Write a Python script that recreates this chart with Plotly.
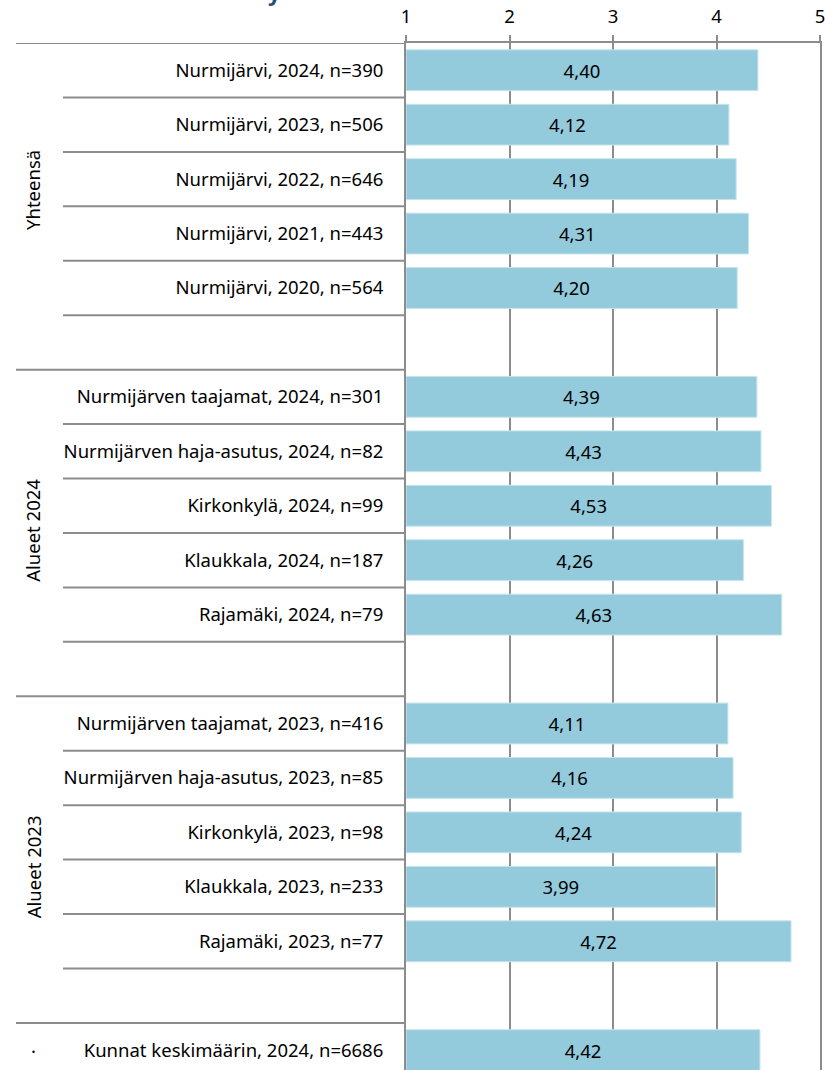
import plotly.graph_objects as go

# ---- data ----
row_labels = [
    "Nurmijärvi, 2024, n=390",
    "Nurmijärvi, 2023, n=506",
    "Nurmijärvi, 2022, n=646",
    "Nurmijärvi, 2021, n=443",
    "Nurmijärvi, 2020, n=564",
    "",
    "Nurmijärven taajamat, 2024, n=301",
    "Nurmijärven haja-asutus, 2024, n=82",
    "Kirkonkylä, 2024, n=99",
    "Klaukkala, 2024, n=187",
    "Rajamäki, 2024, n=79",
    "",
    "Nurmijärven taajamat, 2023, n=416",
    "Nurmijärven haja-asutus, 2023, n=85",
    "Kirkonkylä, 2023, n=98",
    "Klaukkala, 2023, n=233",
    "Rajamäki, 2023, n=77",
    "",
    "Kunnat keskimäärin, 2024, n=6686",
]
values = [4.40, 4.12, 4.19, 4.31, 4.20, None,
          4.39, 4.43, 4.53, 4.26, 4.63, None,
          4.11, 4.16, 4.24, 3.99, 4.72, None,
          4.42]
group_names = ["Yhteensä", "Alueet 2024", "Alueet 2023", "·"]
group_label_rows = [2.2, 8.46, 14.64, 18.0]
group_start_rows = [0, 6, 12, 18]
x_ticks = [1, 2, 3, 4, 5]
axis_min = 1

# ---- style ----
FONT = "Noto Sans"
FS = 18.5
GRID = "#8c8c8c"
BAR = "#93cbdc"
W, H = 825, 1070
ML, MR, MT, MB = 406, 5, 43, 0
plot_w = W - ML - MR
plot_h = H - MT - MB

rows = list(range(len(row_labels)))
bar_rows = [r for r, v in zip(rows, values) if v is not None]
bar_vals = [v for v in values if v is not None]
bar_text = [f"{v:.2f}".replace(".", ",") for v in bar_vals]

fig = go.Figure()
fig.add_trace(go.Bar(
    y=bar_rows,
    x=[v - axis_min for v in bar_vals],
    base=axis_min,
    orientation="h",
    width=0.75,
    marker=dict(color=BAR, line=dict(color="#c6e4ee", width=1)),
    text=bar_text,
    textposition="inside",
    insidetextanchor="middle",
    textangle=0,
    textfont=dict(family=FONT, size=FS, color="#000000"),
    hoverinfo="skip",
))

visible_rows = plot_h / 54.44
fig.update_layout(
    width=W, height=H,
    margin=dict(l=ML, r=MR, t=MT, b=MB, pad=0),
    paper_bgcolor="white", plot_bgcolor="white",
    showlegend=False,
    font=dict(family=FONT, size=FS, color="#000000"),
    xaxis=dict(
        side="top", range=[1, 5], tickvals=x_ticks,
        showgrid=True, gridcolor=GRID, gridwidth=2,
        showline=True, linecolor=GRID, linewidth=2,
        ticks="outside", ticklen=6, tickcolor=GRID, tickwidth=2,
        ticklabelstandoff=5, ticklabeloverflow="allow",
        tickfont=dict(family=FONT, size=FS, color="#000000"),
        zeroline=False, fixedrange=True, automargin=False,
    ),
    yaxis=dict(
        range=[visible_rows - 0.5, -0.5],
        tickvals=[r for r, l in zip(rows, row_labels) if l],
        ticktext=[l for l in row_labels if l],
        ticks="", ticklabelstandoff=17,
        showgrid=False, zeroline=False,
        showline=True, linecolor=GRID, linewidth=2, mirror=True,
        tickfont=dict(family=FONT, size=FS, color="#000000"),
        fixedrange=True, automargin=False,
    ),
)

# category separator lines in the label area
x_short = (63 - ML) / plot_w
x_long = (16 - ML) / plot_w
for k in range(len(row_labels) + 1):
    y = k - 0.5
    x0 = x_long if k in group_start_rows or k == len(row_labels) else x_short
    fig.add_shape(type="line", xref="paper", yref="y", x0=x0, x1=0, y0=y, y1=y,
                  line=dict(color=GRID, width=2), layer="above")

# group labels
for name, r in zip(group_names, group_label_rows):
    fig.add_annotation(text=name, xref="paper", yref="y", x=(33 - ML) / plot_w, y=r,
                       textangle=0 if name == "·" else -90, showarrow=False,
                       xanchor="center", yanchor="middle",
                       font=dict(family=FONT, size=FS, color="#000000"))

# cut-off title fragment at the very top
fig.add_annotation(text="<b>y</b>", xref="paper", yref="paper",
                   x=(274 - ML) / plot_w, y=1 + (MT - 9) / plot_h,
                   xanchor="center", yanchor="bottom", showarrow=False,
                   font=dict(family=FONT, size=22, color="#1f4e79"))

fig.write_html("out.html", config={"displayModeBar": False},
               post_script="document.body.style.margin='0';")
